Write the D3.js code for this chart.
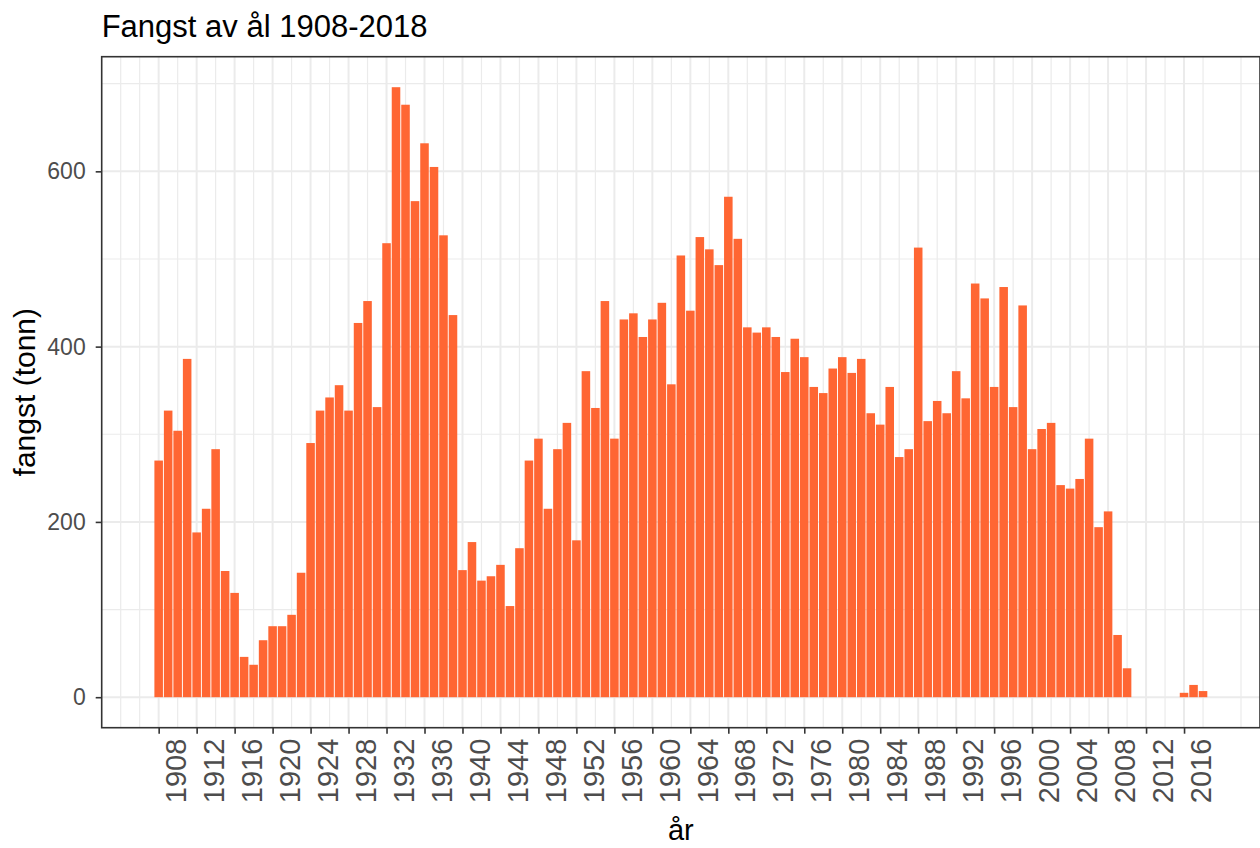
<!DOCTYPE html>
<html>
<head>
<meta charset="utf-8">
<script src="https://cdn.jsdelivr.net/npm/d3@7"></script>
<style>
    body { margin: 0; background: #fff; }
    text { font-family: "Liberation Sans", Arial, sans-serif; }
</style>
</head>
<body>
<div id="chart"></div>
<script>
// data (tonn per year), null = no catch reported
let years = d3.range(1908, 2019);
let fangst = [
    270, 327, 304, 386, 188, 215, 283, 144, 119, 46,
    37, 65, 81, 81, 94, 142, 290, 327, 342, 356,
    327, 427, 452, 331, 518, 696, 676, 566, 632, 605,
    527, 436, 145, 177, 133, 138, 151, 104, 170, 270,
    295, 215, 283, 313, 179, 372, 330, 452, 295, 431,
    438, 411, 431, 450, 357, 504, 441, 525, 511, 493,
    571, 523, 422, 416, 422, 411, 371, 409, 388, 354,
    347, 375, 388, 370, 386, 324, 311, 354, 274, 283,
    513, 315, 338, 324, 372, 341, 472, 455, 354, 468,
    331, 447, 283, 306, 313, 242, 238, 249, 295, 194,
    212, 71, 33, null, null, null, null, null, 5, 14,
    7
];
let xTicks = d3.range(1908, 2017, 4);
let xMinor = d3.range(1904, 2021, 4).map(d => d + 2).concat([1904]);
let yTicks = [0, 200, 400, 600];
let yMinor = [100, 300, 500, 700];

let width = 1260;
let height = 848;

let panel = { left: 101.7, right: 1260, top: 56.7, bottom: 727.7 };

let svg = d3.select("#chart")
    .append("svg")
    .attr("width", width)
    .attr("height", height);

let data = years.map((y, i) => ({ year: y, value: fangst[i] }))
    .filter(d => d.value !== null);

let maxVal = d3.max(data, d => d.value);

let x = d3.scaleLinear()
    .domain([1902, 2024])
    .range([panel.left, panel.right]);

let y = d3.scaleLinear()
    .domain([-0.05 * maxVal, 1.05 * maxVal])
    .range([panel.bottom, panel.top]);

// grid
let grid = svg.append("g");

grid.selectAll(".xminor")
    .data(xMinor)
    .enter()
    .append("line")
    .attr("x1", d => x(d)).attr("x2", d => x(d))
    .attr("y1", panel.top).attr("y2", panel.bottom)
    .attr("stroke", "#ebebeb")
    .attr("stroke-width", 1.2);

grid.selectAll(".yminor")
    .data(yMinor)
    .enter()
    .append("line")
    .attr("x1", panel.left).attr("x2", panel.right)
    .attr("y1", d => y(d)).attr("y2", d => y(d))
    .attr("stroke", "#ebebeb")
    .attr("stroke-width", 1.2);

grid.selectAll(".xmajor")
    .data(xTicks)
    .enter()
    .append("line")
    .attr("x1", d => x(d)).attr("x2", d => x(d))
    .attr("y1", panel.top).attr("y2", panel.bottom)
    .attr("stroke", "#ebebeb")
    .attr("stroke-width", 2);

grid.selectAll(".ymajor")
    .data(yTicks)
    .enter()
    .append("line")
    .attr("x1", panel.left).attr("x2", panel.right)
    .attr("y1", d => y(d)).attr("y2", d => y(d))
    .attr("stroke", "#ebebeb")
    .attr("stroke-width", 2);

// bars
let barW = x(1908.9) - x(1908);

svg.selectAll(".bar")
    .data(data)
    .enter()
    .append("rect")
    .attr("x", d => x(d.year) - barW / 2)
    .attr("width", barW)
    .attr("y", d => y(d.value))
    .attr("height", d => y(0) - y(d.value))
    .style("fill", "#ff6633");

// panel border
svg.append("rect")
    .attr("x", panel.left)
    .attr("y", panel.top)
    .attr("width", panel.right - panel.left)
    .attr("height", panel.bottom - panel.top)
    .attr("fill", "none")
    .attr("stroke", "#333333")
    .attr("stroke-width", 1.6);

// x axis
let xAxis = svg.append("g")
    .attr("transform", "translate(0," + panel.bottom + ")")
    .call(d3.axisBottom(x).tickValues(xTicks).tickSize(6).tickSizeOuter(0).tickFormat(d3.format("d")));

xAxis.select(".domain").remove();
xAxis.selectAll(".tick line")
    .attr("stroke", "#333333")
    .attr("stroke-width", 1.6);
xAxis.selectAll(".tick text")
    .attr("transform", "rotate(-90)")
    .attr("text-anchor", "end")
    .attr("x", -11)
    .attr("y", 0)
    .attr("dy", "0.92em")
    .attr("fill", "#4d4d4d")
    .style("font-size", "29px");

// y axis
let yAxis = svg.append("g")
    .attr("transform", "translate(" + panel.left + ",0)")
    .call(d3.axisLeft(y).tickValues(yTicks).tickSize(6).tickSizeOuter(0));

yAxis.select(".domain").remove();
yAxis.selectAll(".tick line")
    .attr("stroke", "#333333")
    .attr("stroke-width", 1.6);
yAxis.selectAll(".tick text")
    .attr("x", -16)
    .attr("fill", "#4d4d4d")
    .style("font-size", "23px");

// titles
svg.append("text")
    .attr("x", panel.left)
    .attr("y", 37)
    .style("font-size", "31px")
    .attr("fill", "#000")
    .text("Fangst av ål 1908-2018");

svg.append("text")
    .attr("text-anchor", "middle")
    .attr("x", (panel.left + panel.right) / 2)
    .attr("y", 840)
    .style("font-size", "29px")
    .attr("fill", "#000")
    .text("år");

svg.append("text")
    .attr("text-anchor", "middle")
    .attr("transform", "rotate(-90)")
    .attr("x", -(panel.top + panel.bottom) / 2)
    .attr("y", 35)
    .style("font-size", "30px")
    .attr("fill", "#000")
    .text("fangst (tonn)");
</script>
</body>
</html>
